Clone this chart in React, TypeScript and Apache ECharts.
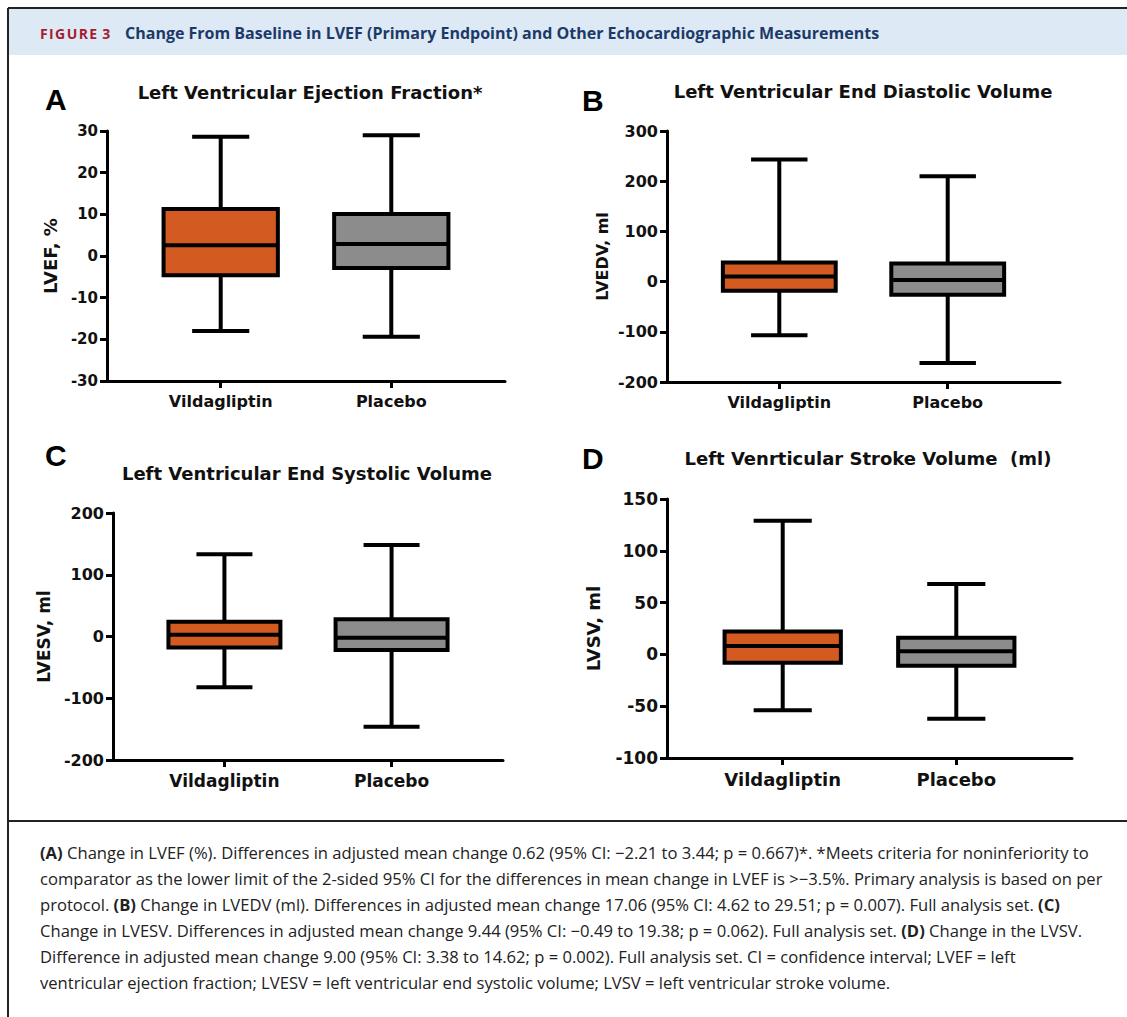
import React, { useEffect, useRef } from "react";
import * as echarts from "echarts";

// ---------- data ----------
const categories = ["Vildagliptin", "Placebo"];

// [min, Q1, median, Q3, max]
const lvefVildagliptin = [-18, -4.6, 2.6, 11.3, 28.6];
const lvefPlacebo = [-19.4, -2.9, 2.9, 10.1, 29];
const lvedvVildagliptin = [-107, -18, 10, 38, 243];
const lvedvPlacebo = [-162, -26, 3, 36, 210];
const lvesvVildagliptin = [-82, -18, 3, 24, 133];
const lvesvPlacebo = [-146, -22, -2, 28, 148];
const lvsvVildagliptin = [-54, -8, 8, 22, 129];
const lvsvPlacebo = [-62, -11, 3, 16, 68];

// y axis ranges [min, max, interval]
const lvefAxis = [-30, 30, 10];
const lvedvAxis = [-200, 300, 100];
const lvesvAxis = [-200, 200, 100];
const lvsvAxis = [-100, 150, 50];

const panelTitles = [
  "Left Ventricular Ejection Fraction*",
  "Left Ventricular End Diastolic Volume",
  "Left Ventricular End Systolic Volume",
  "Left Venrticular Stroke Volume\u00a0\u00a0(ml)",
];
const panelLetters = ["A", "B", "C", "D"];
const axisNames = ["LVEF, %", "LVEDV, ml", "LVESV, ml", "LVSV, ml"];

const headerLabel = "F\u200aI\u200aG\u200aU\u200aR\u200aE\u00a0\u200a3";
const headerTitle =
  "Change From Baseline in LVEF (Primary Endpoint) and Other Echocardiographic Measurements";

const captionLines = [
  "{b|(A)} Change in LVEF (%). Differences in adjusted mean change 0.62 (95% CI: \u22122.21 to 3.44; p = 0.667)*. *Meets criteria for noninferiority to",
  "comparator as the lower limit of the 2-sided 95% CI for the differences in mean change in LVEF is >\u22123.5%. Primary analysis is based on per",
  "protocol. {b|(B)} Change in LVEDV (ml). Differences in adjusted mean change 17.06 (95% CI: 4.62 to 29.51; p = 0.007). Full analysis set. {b|(C)}",
  "Change in LVESV. Differences in adjusted mean change 9.44 (95% CI: \u22120.49 to 19.38; p = 0.062). Full analysis set. {b|(D)} Change in the LVSV.",
  "Difference in adjusted mean change 9.00 (95% CI: 3.38 to 14.62; p = 0.002). Full analysis set. CI = confidence interval; LVEF = left",
  "ventricular ejection fraction; LVESV = left ventricular end systolic volume; LVSV = left ventricular stroke volume.",
];

// ---------- layout / style ----------
const BOX_COLORS = ["#D35A21", "#8C8C8C"];
const X_MIN = -2 / 3;
const X_MAX = 5 / 3;
const BOX_WIDTH = 0.67;
const AXIS_FONT = "DejaVu Sans";
const CAPTION_FONT_SIZE = 16.6;

const panels = [
  {
    data: [lvefVildagliptin, lvefPlacebo], axis: lvefAxis,
    grid: { left: 107, top: 131, width: 398, height: 250 },
    tickFont: 15, catFont: 16, nameFont: 18, nameGap: 48,
    title: { x: 310, y: 92 }, letter: { x: 45, y: 99 },
  },
  {
    data: [lvedvVildagliptin, lvedvPlacebo], axis: lvedvAxis,
    grid: { left: 667, top: 131, width: 393, height: 251 },
    tickFont: 16, catFont: 16, nameFont: 16, nameGap: 57,
    title: { x: 863, y: 91 }, letter: { x: 582, y: 100 },
  },
  {
    data: [lvesvVildagliptin, lvesvPlacebo], axis: lvesvAxis,
    grid: { left: 113, top: 513, width: 390, height: 247 },
    tickFont: 16, catFont: 17, nameFont: 17, nameGap: 61,
    title: { x: 307, y: 473 }, letter: { x: 45, y: 455 },
  },
  {
    data: [lvsvVildagliptin, lvsvPlacebo], axis: lvsvAxis,
    grid: { left: 667, top: 499, width: 405, height: 259 },
    tickFont: 17, catFont: 18, nameFont: 18, nameGap: 65,
    title: { x: 868, y: 458 }, letter: { x: 582, y: 458 },
  },
];

const renderBox = (params: any, api: any) => {
  const x = api.value(0);
  const lo = api.coord([x, api.value(1)]);
  const q1 = api.coord([x, api.value(2)]);
  const md = api.coord([x, api.value(3)]);
  const q3 = api.coord([x, api.value(4)]);
  const hi = api.coord([x, api.value(5)]);
  const half = api.size([BOX_WIDTH, 0])[0] / 2;
  const cap = half / 2;
  const cx = lo[0];
  const stroke = { stroke: "#000", lineWidth: 4, fill: null };
  return {
    type: "group",
    children: [
      { type: "line", shape: { x1: cx, y1: hi[1], x2: cx, y2: lo[1] }, style: stroke },
      { type: "line", shape: { x1: cx - cap, y1: hi[1], x2: cx + cap, y2: hi[1] }, style: stroke },
      { type: "line", shape: { x1: cx - cap, y1: lo[1], x2: cx + cap, y2: lo[1] }, style: stroke },
      {
        type: "rect",
        shape: { x: cx - half, y: q3[1], width: 2 * half, height: q1[1] - q3[1] },
        style: { fill: BOX_COLORS[Math.round(x)], stroke: "#000", lineWidth: 4 },
      },
      { type: "line", shape: { x1: cx - half, y1: md[1], x2: cx + half, y2: md[1] }, style: stroke },
    ],
  };
};

export default function App() {
  const ref = useRef<HTMLDivElement>(null);

  useEffect(() => {
    document.body.style.margin = "0";
    if (!ref.current) return;
    const chart = echarts.init(ref.current, null, { renderer: "svg" });

    const grid = panels.map((p) => ({ ...p.grid }));
    const xAxis = panels.map((p, i) => ({
      type: "value",
      gridIndex: i,
      min: X_MIN,
      max: X_MAX,
      axisLine: { show: true, onZero: false, lineStyle: { color: "#000", width: 3 } },
      axisTick: { show: true, customValues: [0, 1], length: 7, lineStyle: { color: "#000", width: 3 } },
      axisLabel: {
        show: true,
        customValues: [0, 1],
        formatter: (v: number) => categories[Math.round(v)] ?? "",
        margin: 12,
        fontFamily: AXIS_FONT,
        fontWeight: "bold",
        fontSize: p.catFont,
        color: "#111",
      },
      splitLine: { show: false },
    }));
    const yAxis = panels.map((p, i) => ({
      type: "value",
      gridIndex: i,
      min: p.axis[0],
      max: p.axis[1],
      interval: p.axis[2],
      axisLine: { show: true, onZero: false, lineStyle: { color: "#000", width: 3 } },
      axisTick: { show: true, length: 7, lineStyle: { color: "#000", width: 3 } },
      axisLabel: {
        margin: 9,
        fontFamily: AXIS_FONT,
        fontWeight: "bold",
        fontSize: p.tickFont,
        color: "#111",
      },
      splitLine: { show: false },
      name: axisNames[i],
      nameLocation: "middle",
      nameRotate: 90,
      nameGap: p.nameGap,
      nameTextStyle: {
        fontFamily: AXIS_FONT,
        fontWeight: "bold",
        fontSize: p.nameFont,
        color: "#111",
      },
    }));
    const series = panels.map((p, i) => ({
      type: "custom",
      xAxisIndex: i,
      yAxisIndex: i,
      renderItem: renderBox,
      encode: { x: 0, y: [1, 2, 3, 4, 5] },
      data: p.data.map((d, k) => [k, ...d]),
      clip: false,
    }));

    const graphic: any[] = [
      { type: "rect", shape: { x: 8, y: 9, width: 1119, height: 46 }, style: { fill: "#DDE9F5" } },
      { type: "line", shape: { x1: 8, y1: 8, x2: 1127, y2: 8 }, style: { stroke: "#222", lineWidth: 2 } },
      { type: "line", shape: { x1: 8, y1: 8, x2: 8, y2: 1017 }, style: { stroke: "#222", lineWidth: 2 } },
      { type: "line", shape: { x1: 8, y1: 821, x2: 1127, y2: 821 }, style: { stroke: "#222", lineWidth: 2 } },
      {
        type: "text",
        style: {
          text: headerLabel, x: 40, y: 33, fill: "#A51C30",
          fontFamily: "Open Sans", fontWeight: "bold", fontSize: 14,
          textAlign: "left", textVerticalAlign: "middle",
        },
      },
      {
        type: "text",
        style: {
          text: headerTitle, x: 125, y: 33, fill: "#1C3A68",
          fontFamily: "Open Sans", fontWeight: "bold", fontSize: 16,
          textAlign: "left", textVerticalAlign: "middle",
        },
      },
    ];
    panels.forEach((p, i) => {
      graphic.push({
        type: "text",
        style: {
          text: panelTitles[i], x: p.title.x, y: p.title.y, fill: "#111",
          fontFamily: AXIS_FONT, fontWeight: "bold", fontSize: 18,
          textAlign: "center", textVerticalAlign: "middle",
        },
      });
      graphic.push({
        type: "text",
        style: {
          text: panelLetters[i], x: p.letter.x, y: p.letter.y, fill: "#000",
          fontFamily: "Liberation Sans", fontWeight: "bold", fontSize: 30,
          textAlign: "left", textVerticalAlign: "middle",
        },
      });
    });
    captionLines.forEach((line, i) => {
      graphic.push({
        type: "text",
        style: {
          text: line, x: 40, y: 852 + i * 26, fill: "#222",
          fontFamily: "Open Sans", fontSize: CAPTION_FONT_SIZE,
          textAlign: "left", textVerticalAlign: "middle",
          rich: {
            b: { fontFamily: "Open Sans", fontSize: CAPTION_FONT_SIZE, fontWeight: "bold", fill: "#222" },
          },
        },
      });
    });

    chart.setOption({
      animation: false,
      backgroundColor: "#fff",
      grid,
      xAxis,
      yAxis,
      series,
      graphic,
    });
    return () => chart.dispose();
  }, []);

  return <div ref={ref} style={{ width: 1127, height: 1017 }} />;
}
